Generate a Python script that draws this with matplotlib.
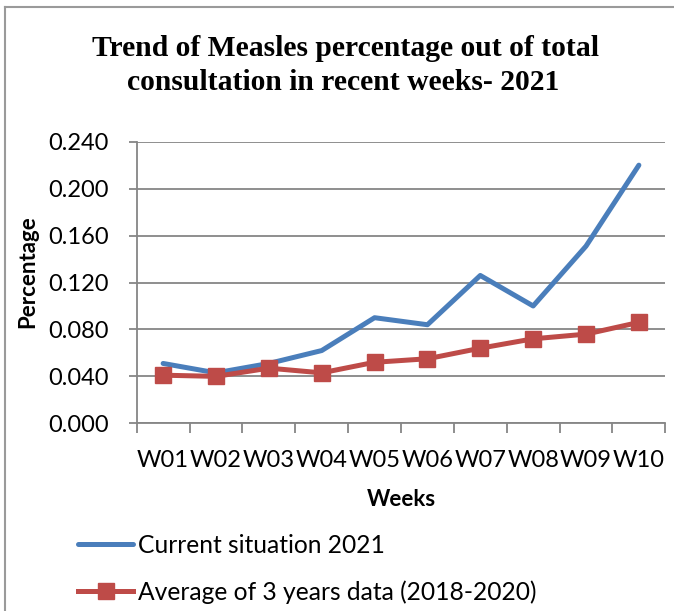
import matplotlib
matplotlib.use("Agg")
import matplotlib.pyplot as plt
from matplotlib.lines import Line2D

weeks = ["W01", "W02", "W03", "W04", "W05", "W06", "W07", "W08", "W09", "W10"]
current_2021 = [0.051, 0.043, 0.051, 0.062, 0.090, 0.084, 0.126, 0.100, 0.151, 0.220]
avg_2018_2020 = [0.041, 0.040, 0.047, 0.043, 0.052, 0.055, 0.064, 0.072, 0.076, 0.086]
yticks = [0.000, 0.040, 0.080, 0.120, 0.160, 0.200, 0.240]

W, H = 674, 611
fig = plt.figure(figsize=(W / 100, H / 100), dpi=100)
fig.patch.set_facecolor("white")

sans = ["Lato", "DejaVu Sans"]
serif = ["Liberation Serif", "DejaVu Serif"]

left, right, top, bottom = 136.7, 665.3, 141.7, 423.3
ax = fig.add_axes([left / W, 1 - bottom / H, (right - left) / W, (bottom - top) / H])

x = list(range(len(weeks)))
blue = "#4A7EBB"
red = "#BE4B48"
ax.plot(x, current_2021, color=blue, lw=3.6, solid_capstyle="round", zorder=3,
        label="Current situation 2021")
ax.plot(x, avg_2018_2020, color=red, lw=3.6, marker="s", markersize=12,
        markerfacecolor=red, markeredgecolor=red, zorder=4,
        label="Average of 3 years data (2018-2020)")

ax.set_xlim(-0.5, len(weeks) - 0.5)
ax.set_ylim(0, 0.24)
ax.set_yticks(yticks)
ax.set_yticklabels([f"{v:.3f}" for v in yticks], fontfamily=sans, fontsize=17)
ax.set_xticks(x)
ax.set_xticklabels(weeks, fontfamily=sans, fontsize=17)
ax.set_xticks([i - 0.5 for i in range(len(weeks) + 1)], minor=True)
ax.tick_params(axis="x", which="major", length=0, pad=19)
ax.tick_params(axis="x", which="minor", length=7, width=1.3, color="#868686", direction="out")
ax.tick_params(axis="y", length=6, width=1.3, color="#868686", direction="out", pad=14)

ax.grid(axis="y", color="#868686", lw=1.3)
ax.set_axisbelow(True)
for s in ["top", "right"]:
    ax.spines[s].set_visible(False)
for s in ["left", "bottom"]:
    ax.spines[s].set_color("#868686")
    ax.spines[s].set_linewidth(1.3)

# Titles and axis labels
fig.text(345 / W, 1 - 48 / H, "Trend of Measles percentage out of total",
         ha="center", va="center", fontfamily=serif, fontweight="bold", fontsize=21.3)
fig.text(343 / W, 1 - 83 / H, "consultation in recent weeks- 2021",
         ha="center", va="center", fontfamily=serif, fontweight="bold", fontsize=21.3)
fig.text(28 / W, 1 - 272 / H, "Percentage", rotation=90, ha="center", va="center",
         fontfamily=sans, fontweight="bold", fontsize=16)
fig.text(401 / W, 1 - 499 / H, "Weeks", ha="center", va="center",
         fontfamily=sans, fontweight="bold", fontsize=16)

# Legend
handles = [Line2D([], [], color=blue, lw=3.6, solid_capstyle="round"),
           Line2D([], [], color=red, lw=3.6, marker="s", markersize=12)]
labels = ["Current situation 2021", "Average of 3 years data (2018-2020)"]
fig.legend(handles, labels, loc="upper left", bbox_to_anchor=(78 / W, 1 - 534 / H),
           frameon=False, borderpad=0, borderaxespad=0, handlelength=2.25,
           handletextpad=0.2, labelspacing=0.95, prop={"family": sans, "size": 17.7})

# Outer frame (top and left edges)
fig.add_artist(Line2D([5 / W, 1], [1 - 7 / H, 1 - 7 / H], color="#9a9a9a", lw=1.5,
                      transform=fig.transFigure))
fig.add_artist(Line2D([5 / W, 5 / W], [0, 1 - 7 / H], color="#9a9a9a", lw=1.5,
                      transform=fig.transFigure))

fig.savefig("out.png", dpi=100, facecolor="white")
